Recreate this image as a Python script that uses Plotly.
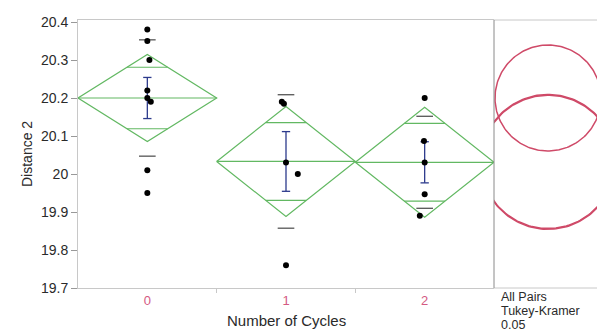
import numpy as np
import plotly.graph_objects as go

# --- data ----------------------------------------------------------------
groups = ["0", "1", "2"]
values_0 = [20.38, 20.35, 20.30, 20.22, 20.20, 20.19, 20.01, 19.95]
values_1 = [20.19, 20.185, 20.03, 20.00, 19.76]
values_2 = [20.20, 20.087, 20.03, 19.947, 19.89]
jitter_0 = [0.0, 0.0, 0.015, 0.0, 0.0, 0.025, 0.0, 0.0]
jitter_1 = [-0.03, -0.015, 0.0, 0.085, 0.0]
jitter_2 = [0.0, -0.005, 0.0, 0.0, -0.035]

y_ticks = [19.7, 19.8, 19.9, 20.0, 20.1, 20.2, 20.3, 20.4]
y_tick_text = ["19.7", "19.8", "19.9", "20", "20.1", "20.2", "20.3", "20.4"]
panel_labels = ["All Pairs", "Tukey-Kramer", "0.05"]

T_975_15 = 2.131   # t quantile, df = 15
Q_STAR = 2.597     # Tukey-Kramer q*, alpha 0.05, k=3, df=15

all_values = [values_0, values_1, values_2]
all_jitter = [jitter_0, jitter_1, jitter_2]

GREEN = "#62b862"
BLUE = "#2c3a8c"
RED = "#cf4a68"
PINK = "#d45a82"
TXT = "#2a2a2a"
AX = "#c8c8c8"

# pooled std
ss = sum(((np.array(v) - np.mean(v)) ** 2).sum() for v in all_values)
dfe = sum(len(v) for v in all_values) - len(all_values)
sp = np.sqrt(ss / dfe)

fig = go.Figure()

for g, (vals, jit) in enumerate(zip(all_values, all_jitter)):
    v = np.array(vals)
    n = len(v)
    m = v.mean()
    sd = v.std(ddof=1)
    se = sd / np.sqrt(n)
    h = T_975_15 * sp / np.sqrt(n)
    ov = h / np.sqrt(2)
    ow = 0.5 * (1 - 1 / np.sqrt(2))

    # diamond
    fig.add_trace(go.Scatter(
        x=[g - 0.5, g, g + 0.5, g, g - 0.5], y=[m, m + h, m, m - h, m],
        mode="lines", line=dict(color=GREEN, width=1.2), hoverinfo="skip"))
    # mean line + overlap marks
    fig.add_trace(go.Scatter(
        x=[g - 0.5, g + 0.5, None, g - ow, g + ow, None, g - ow, g + ow],
        y=[m, m, None, m + ov, m + ov, None, m - ov, m - ov],
        mode="lines", line=dict(color=GREEN, width=1.2), hoverinfo="skip"))
    # std dev lines
    fig.add_trace(go.Scatter(
        x=[g - 0.06, g + 0.06, None, g - 0.06, g + 0.06],
        y=[m + sd, m + sd, None, m - sd, m - sd],
        mode="lines", line=dict(color="#555555", width=1.3), hoverinfo="skip"))
    # mean error bar
    fig.add_trace(go.Scatter(
        x=[g, g, None, g - 0.03, g + 0.03, None, g - 0.03, g + 0.03],
        y=[m - se, m + se, None, m + se, m + se, None, m - se, m - se],
        mode="lines", line=dict(color=BLUE, width=1.3), hoverinfo="skip"))
    # points
    fig.add_trace(go.Scatter(
        x=[g + j for j in jit], y=vals, mode="markers",
        marker=dict(color="black", size=6), hoverinfo="skip"))

    # comparison circle
    r = Q_STAR * sp / np.sqrt(n)
    t = np.linspace(0, 2 * np.pi, 200)
    fig.add_trace(go.Scatter(
        x=r * np.cos(t), y=m + r * np.sin(t), xaxis="x2", yaxis="y",
        mode="lines", line=dict(color=RED, width=1.5), hoverinfo="skip"))

# page body has an 8px margin, so the figure is sized to fit what is left
W, H = 597, 327
L, R, T, B = 70, 0, 12, 47
pw = W - L - R
sep_px = 486
split = (sep_px - L) / pw
ppu = 380.0  # px per y unit
y0 = 19.7
y1 = y0 + (H - T - B) / ppu

fig.update_layout(
    width=W, height=H,
    margin=dict(l=L, r=R, t=T, b=B),
    plot_bgcolor="white", paper_bgcolor="white",
    showlegend=False,
    font=dict(family="Liberation Sans, Arial, sans-serif", size=13, color=TXT),
    xaxis=dict(
        domain=[0, split], range=[-0.5, 2.5],
        tickvals=[0, 1, 2], ticktext=groups,
        tickfont=dict(color=PINK, size=13),
        ticks="", showgrid=False, zeroline=False,
        showline=True, linecolor=AX, linewidth=1, mirror=True,
        minor=dict(tickvals=[0.5, 1.5], ticks="outside", ticklen=4, tickcolor=AX),
    ),
    xaxis2=dict(
        domain=[split, 1], anchor="y",
        range=[-54 / ppu, (W - sep_px - 54) / ppu],
        visible=False, showgrid=False, zeroline=False,
    ),
    yaxis=dict(
        range=[y0, y1], tickvals=y_ticks, ticktext=y_tick_text,
        ticks="outside", ticklen=6, tickcolor="#999999",
        showgrid=False, zeroline=False,
        showline=True, linecolor=AX, linewidth=1,
        tickfont=dict(size=14, color=TXT),
    ),
)

# frame: top/bottom lines over right panel, separator
fig.add_shape(type="line", xref="paper", yref="paper", x0=split, x1=1, y0=1, y1=1,
              line=dict(color=AX, width=1))
fig.add_shape(type="line", xref="paper", yref="paper", x0=split, x1=1, y0=0, y1=0,
              line=dict(color=AX, width=1))
fig.add_shape(type="line", xref="paper", yref="paper", x0=split, x1=split, y0=0, y1=1,
              line=dict(color="#8a8a8a", width=1))

fig.add_annotation(text="Number of Cycles", xref="paper", yref="paper",
                   x=split / 2, y=0, yshift=-32, showarrow=False,
                   font=dict(size=15, color=TXT), yanchor="middle")
fig.add_annotation(text="Distance 2", xref="paper", yref="paper",
                   x=0, xshift=-61, y=0.5, textangle=-90, showarrow=False,
                   font=dict(size=14, color=TXT))
for i, lab in enumerate(panel_labels):
    fig.add_annotation(text=lab, xref="paper", yref="paper",
                       x=split, xshift=5, y=0, yshift=-9 - 14 * i, showarrow=False,
                       xanchor="left", yanchor="middle", align="left",
                       font=dict(size=12.5, color=TXT))

fig.write_html("out.html")
